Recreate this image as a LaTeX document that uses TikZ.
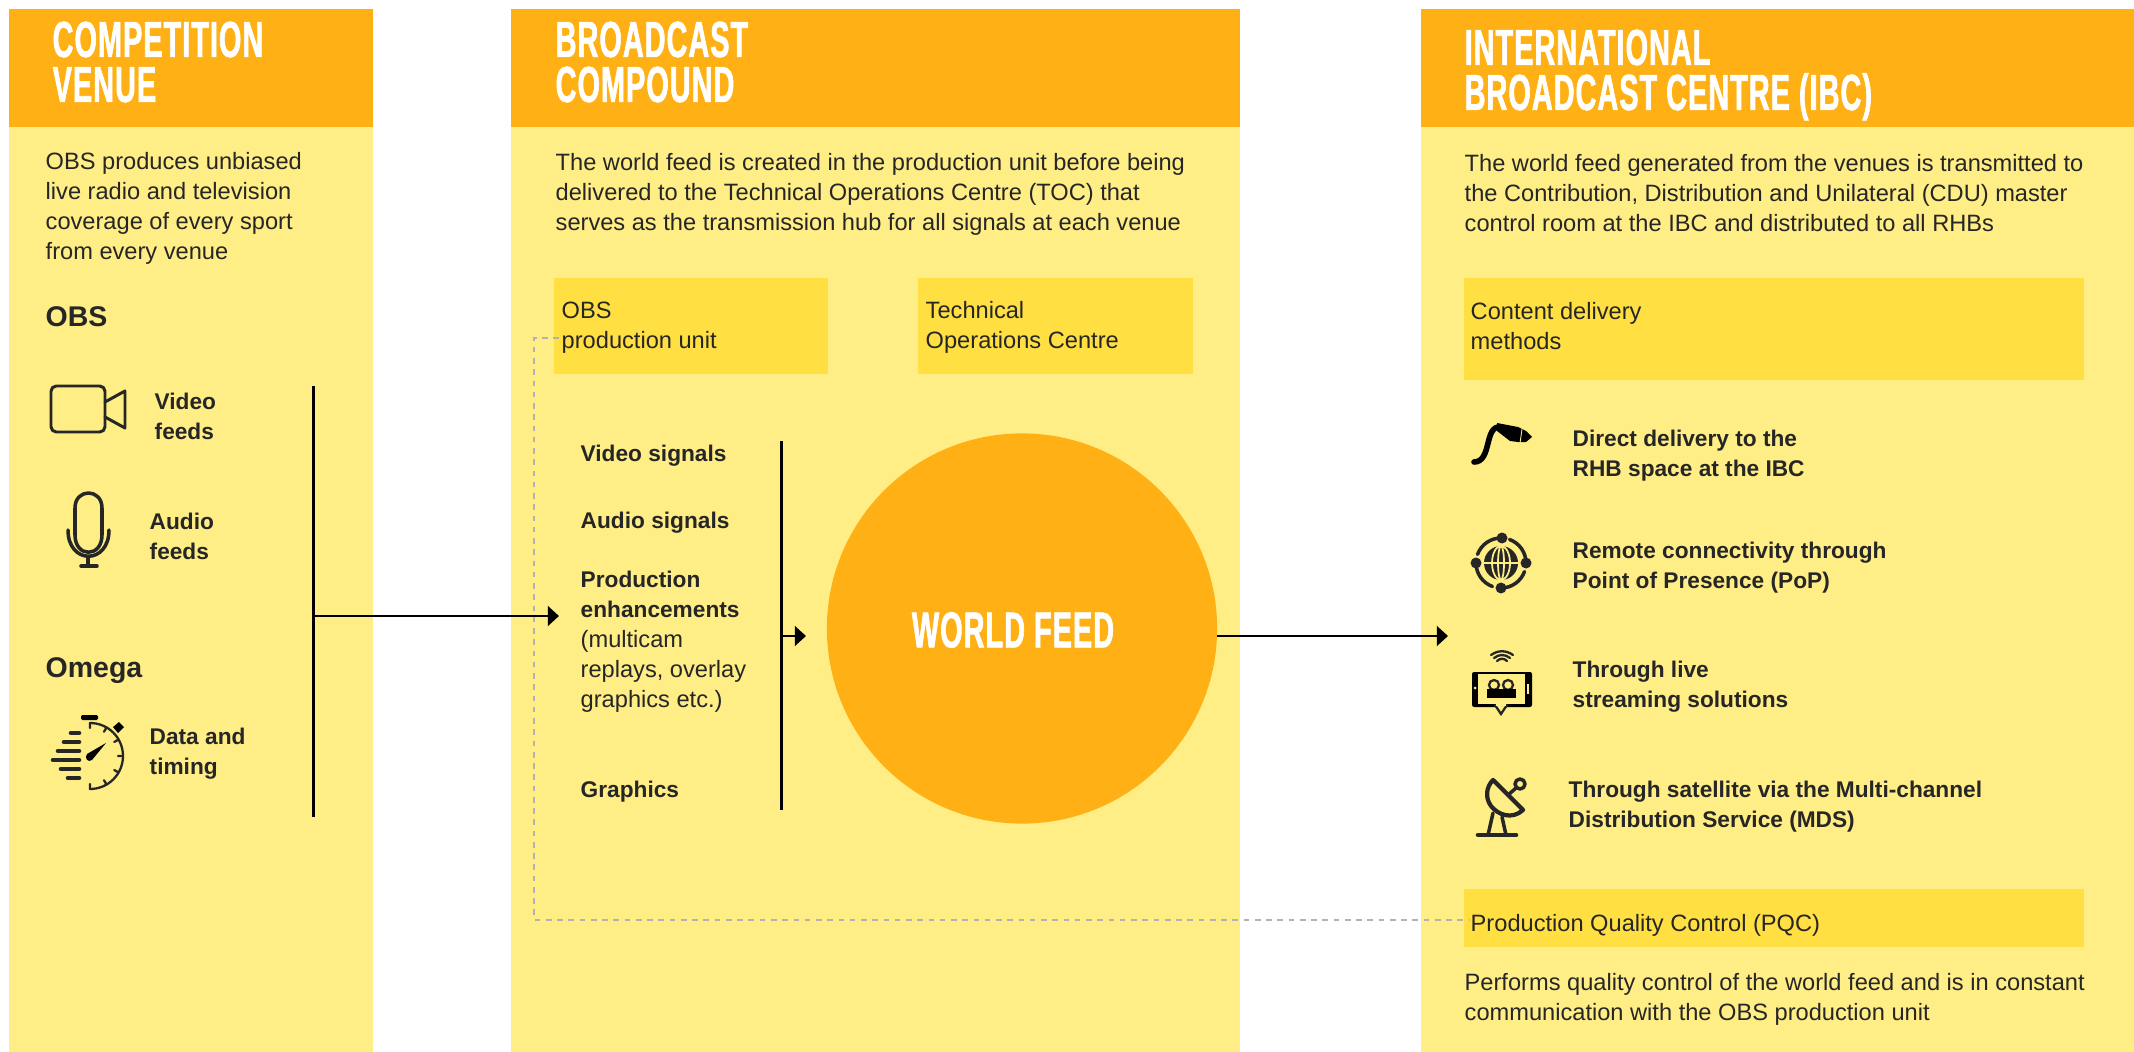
\documentclass[tikz,border=0pt]{standalone}
\usepackage{fontspec}
\setmainfont{Liberation Sans}
\newfontfamily\headfont[FakeStretch=0.57,FakeBold=1.2,LetterSpace=2]{Liberation Sans Bold}
\usetikzlibrary{arrows.meta}
\definecolor{panelyellow}{HTML}{FFED85}
\definecolor{boxyellow}{HTML}{FFDF42}
\definecolor{headorange}{HTML}{FFB014}
\definecolor{inkdark}{HTML}{262626}
\tikzset{
    bodytext/.style={anchor=west,inner sep=0pt,align=left,yshift=-0.7pt,text=inkdark,font=\fontsize{6.72pt}{8.55pt}\selectfont},
    feedtext/.style={bodytext,font=\fontsize{6.45pt}{8.55pt}\selectfont\bfseries},
    subhead/.style={bodytext,font=\fontsize{8.1pt}{9pt}\selectfont\bfseries},
    headtext/.style={anchor=west,inner sep=0pt,align=left,text=white,font=\fontsize{14.4pt}{12.8pt}\selectfont\headfont},
    yellowbox/.style={anchor=north west,fill=boxyellow,inner sep=0pt,outer sep=0pt},
    busline/.style={line width=0.85pt,black},
    flowarrow/.style={busline,-{Triangle[length=3.2pt,width=5.6pt]}},
    iconline/.style={line width=1pt,inkdark,line cap=round,line join=round},
    iconthin/.style={line width=0.65pt,inkdark,line cap=round},
}
\begin{document}
\begin{tikzpicture}[x=0.01cm,y=-0.01cm]
    \useasboundingbox (0,0) rectangle (2134,1052);
    \fill[panelyellow] (9,9) rectangle (373,1052);
    \fill[panelyellow] (511,9) rectangle (1240,1052);
    \fill[panelyellow] (1421,9) rectangle (2134,1052);
    \fill[headorange] (9,9) rectangle (373,127);
    \fill[headorange] (511,9) rectangle (1240,127);
    \fill[headorange] (1421,9) rectangle (2134,127);

    \node[headtext] (venuehead) at (52,62) {COMPETITION\\VENUE};
    \node[headtext] (compoundhead) at (555,62) {BROADCAST\\COMPOUND};
    \node[headtext] (ibchead) at (1464,75) {INTERNATIONAL\\BROADCAST CENTRE (IBC)};

    \node[bodytext] (venuetext) at (45,206) {OBS produces unbiased\\live radio and television\\coverage of every sport\\from every venue};
    \node[subhead] (obshead) at (45,314) {OBS};
    \node[feedtext] (videofeeds) at (154,414) {Video\\feeds};
    \node[feedtext] (audiofeeds) at (149,534) {Audio\\feeds};
    \node[subhead] (omegahead) at (45,668) {Omega};
    \node[feedtext] (datatiming) at (149,751) {Data and\\timing};

    \node[bodytext] (compoundtext) at (555,192) {The world feed is created in the production unit before being\\delivered to the Technical Operations Centre (TOC) that\\serves as the transmission hub for all signals at each venue};
    \node[yellowbox,minimum width=2.74cm,minimum height=0.96cm] (obsunit) at (554,278) {};
    \node[yellowbox,minimum width=2.75cm,minimum height=0.96cm] (tocbox) at (918,278) {};
    \node[bodytext] (obsunitlabel) at (561,325) {OBS\\production unit};
    \node[bodytext] (toclabel) at (925,325) {Technical\\Operations Centre};

    \node[feedtext] (videosignals) at (580,453) {Video signals};
    \node[feedtext] (audiosignals) at (580,520) {Audio signals};
    \node[bodytext] (enhancements) at (580,639) {\bfseries\fontsize{6.45pt}{8.55pt}\selectfont Production\\\bfseries\fontsize{6.45pt}{8.55pt}\selectfont enhancements\\(multicam\\replays, overlay\\graphics etc.)};
    \node[feedtext] (graphicssignal) at (580,789) {Graphics};

    \node[circle,fill=headorange,minimum size=3.9cm,inner sep=0pt,outer sep=0pt] (worldfeed) at (1022,628.5) {};
    \node[headtext,anchor=center] (worldfeedlabel) at (1013,630) {WORLD FEED};

    \node[bodytext] (ibctext) at (1464,191) {The world feed generated from the venues is transmitted to\\the Contribution, Distribution and Unilateral (CDU) master\\control room at the IBC and distributed to all RHBs};
    \node[yellowbox,minimum width=6.2cm,minimum height=1.02cm] (deliverybox) at (1464,278) {};
    \node[bodytext] (deliverylabel) at (1470,324) {Content delivery\\methods};
    \node[feedtext] (direct) at (1572,453) {Direct delivery to the\\RHB space at the IBC};
    \node[feedtext] (remote) at (1572,565) {Remote connectivity through\\Point of Presence (PoP)};
    \node[feedtext] (streaming) at (1572,684) {Through live\\streaming solutions};
    \node[feedtext] (satellite) at (1568,804) {Through satellite via the Multi-channel\\Distribution Service (MDS)};
    \node[yellowbox,minimum width=6.2cm,minimum height=0.58cm] (pqcbox) at (1464,889) {};
    \node[bodytext] (pqclabel) at (1470,923) {Production Quality Control (PQC)};
    \node[bodytext] (pqctext) at (1464,997) {Performs quality control of the world feed and is in constant\\communication with the OBS production unit};

    \coordinate (venuetop) at (313,386);
    \coordinate (venuebottom) at (313,817);
    \coordinate (venueout) at (313,616);
    \coordinate (obsin) at (559,616);
    \coordinate (signaltop) at (781,441);
    \coordinate (signalbottom) at (781,810);
    \coordinate (signalout) at (781,636);
    \coordinate (feedin) at (806,636);
    \coordinate (ibcin) at (1448,636);
    \coordinate (dashstart) at (559,338);
    \coordinate (dashcorner) at (534,920);
    \coordinate (dashend) at (1470,920);

    \draw[dash pattern=on 1.6pt off 1.6pt,gray!60,line width=0.32pt] (dashstart) -| (dashcorner) |- (dashend);
    \draw[busline] (venuetop) -- (venuebottom);
    \draw[flowarrow] (venueout) -- (obsin);
    \draw[busline] (signaltop) -- (signalbottom);
    \draw[flowarrow] (signalout) -- (feedin);
    \draw[flowarrow] (worldfeed.east |- ibcin) -- (ibcin);

    % camera
    \draw[iconline,line width=0.85pt,rounded corners=1.5pt] (51,386) rectangle (105,432);
    \draw[iconline,line width=0.85pt] (105,402) -- (125,391) -- (125,428) -- (105,417);
    % microphone
    \draw[iconline] (75,508) .. controls (75,488) and (102,488) .. (102,508) -- (102,535) .. controls (102,558) and (75,558) .. (75,535) -- cycle;
    \draw[iconline] (68,530) .. controls (68,565) and (109,565) .. (109,530);
    \draw[iconline] (88,557) -- (88,566) (81,566) -- (97,566);
    % stopwatch
    \coordinate (watch) at (90,756);
    \draw[iconthin] (watch) +(-90:33) arc[start angle=-90,end angle=90,radius=33];
    \draw[iconthin] (watch) +(-60:33) -- +(-60:28) (watch) +(-30:33) -- +(-30:28) (watch) +(0:33) -- +(0:28) (watch) +(30:33) -- +(30:28) (watch) +(60:33) -- +(60:28) (watch) +(90:33) -- +(90:28) (watch) +(-90:33) -- +(-90:28);
    \draw[iconline,line width=1.3pt] (71,733) -- (79,733) (64,742) -- (79,742) (58,751) -- (79,751) (53,760) -- (79,760) (61,769) -- (79,769) (68,778) -- (79,778);
    \fill[black,rounded corners=0.4pt] (81,715) rectangle (98,720);
    \fill[black] (113,727) -- (119,722) -- (124,727) -- (118,733) -- cycle;
    \fill[black] (106,743) -- (92,760) .. controls (88,763) and (84,758) .. (87,754) -- cycle;
    % cable
    \draw[line width=1.6pt,black,line cap=round] (1474,462) .. controls (1492,462) and (1484,426) .. (1500,427);
    \fill[black] (1497,423) -- (1518,427) -- (1526,431) -- (1532,437) -- (1526,442) -- (1518,442) -- (1510,441) -- (1497,431) -- cycle;
    \draw[panelyellow,line width=0.25pt] (1522,429) -- (1520,443);
    % globe
    \coordinate (globe) at (1501,563);
    \fill[inkdark] (globe) circle[radius=17];
    \draw[panelyellow,line width=0.5pt] (globe) circle[x radius=9,y radius=17] (globe) circle[x radius=3,y radius=17] (1484,563) -- (1518,563);
    \draw[iconline] (globe) +(270:25) arc[start angle=270,end angle=200,radius=25];
    \draw[iconline] (globe) +(180:25) arc[start angle=180,end angle=110,radius=25];
    \draw[iconline] (globe) +(90:25) arc[start angle=90,end angle=20,radius=25];
    \draw[iconline] (globe) +(0:25) arc[start angle=0,end angle=-70,radius=25];
    \fill[inkdark] (1502,538) circle[radius=5.5] (1526,563) circle[radius=5.5] (1501,588) circle[radius=5.5] (1476,563) circle[radius=5.5];
    % phone
    \fill[black,rounded corners=0.6pt] (1472,672) rectangle (1532,707);
    \fill[panelyellow] (1478,674) rectangle (1525,704);
    \fill[panelyellow] (1475,688) circle[radius=1.5];
    \fill[panelyellow] (1527,684) rectangle (1529,694);
    \filldraw[iconthin,fill=panelyellow,line join=miter] (1495,705) -- (1501,714) -- (1507,705);
    \fill[panelyellow] (1496,703) rectangle (1506,705.5);
    \draw[iconthin] (1494,685) circle[radius=5] (1508,685) circle[radius=5];
    \fill[black] (1487,689) rectangle (1516,698);
    \draw[iconthin] (1497,661) .. controls (1500,658) and (1504,658) .. (1507,661) (1494,658) .. controls (1499,654) and (1505,654) .. (1510,658) (1491,655) .. controls (1498,650) and (1506,650) .. (1513,655);
    % satellite dish
    \draw[iconline,line width=1.2pt] (1493,780) -- (1523,810) .. controls (1512,820) and (1498,815) .. (1491,806) .. controls (1485,798) and (1486,787) .. (1493,780) -- cycle;
    \draw[iconline] (1508,795) -- (1516,788);
    \draw[iconline] (1520,784) circle[radius=5];
    \draw[iconline] (1493,813) -- (1488,835) (1502,817) -- (1506,835);
    \draw[iconline,line width=1.3pt] (1478,835) -- (1516,835);
\end{tikzpicture}
\end{document}
